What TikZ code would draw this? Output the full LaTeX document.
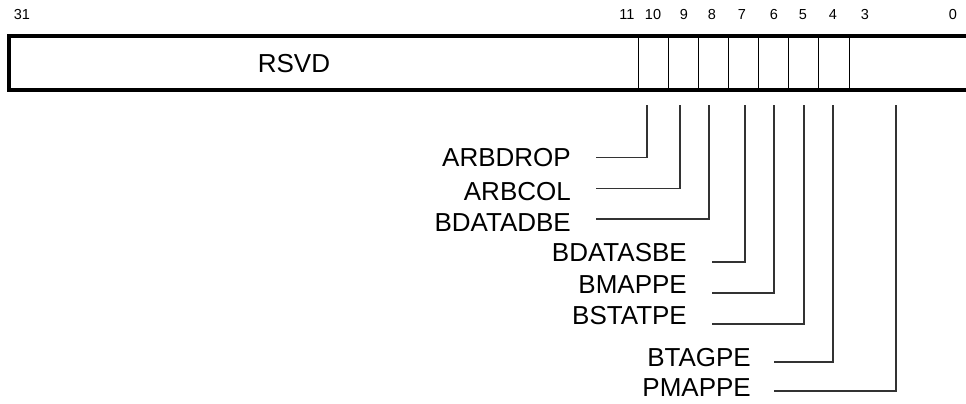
\documentclass[tikz,border=0pt]{standalone}
\usepackage{fontspec}
\setmainfont{Liberation Sans}
\begin{document}
\begin{tikzpicture}[x=1pt,y=-1pt,
  bitnum/.style={font=\fontsize{14.5}{16}\selectfont, inner sep=0pt, anchor=center},
  fieldlab/.style={font=\fontsize{26}{30}\selectfont, inner sep=0pt, anchor=base east},
  conn/.style={line width=1.2pt, draw=black!80},
  divider/.style={line width=1pt}]
\useasboundingbox (0,0) rectangle (966,404);
% register outline
\draw[line width=4pt] (970,36) -- (9,36) -- (9,90) -- (970,90);
% field dividers
\foreach \x in {638,668,698,728,758,788,818,849}
  \draw[divider] (\x,37.5) -- (\x,88.5);
% bit numbers
\node[bitnum] (b31) at (22,15) {31};
\node[bitnum] (b11) at (627,15) {11};
\node[bitnum] (b10) at (653,15) {10};
\node[bitnum] (b9) at (684,15) {9};
\node[bitnum] (b8) at (712,15) {8};
\node[bitnum] (b7) at (742,15) {7};
\node[bitnum] (b6) at (774,15) {6};
\node[bitnum] (b5) at (803,15) {5};
\node[bitnum] (b4) at (833,15) {4};
\node[bitnum] (b3) at (865,15) {3};
\node[bitnum] (b0) at (953,15) {0};
% RSVD
\node[font=\fontsize{26}{30}\selectfont, inner sep=0pt] (rsvd) at (294,63.5) {RSVD};
% labels
\node[fieldlab] (arbdrop) at (571,166.7) {ARBDROP};
\node[fieldlab] (arbcol) at (571,200) {ARBCOL};
\node[fieldlab] (bdatadbe) at (571,231.7) {BDATADBE};
\node[fieldlab] (bdatasbe) at (687,261.7) {BDATASBE};
\node[fieldlab] (bmappe) at (687,293.3) {BMAPPE};
\node[fieldlab] (bstatpe) at (687,324) {BSTATPE};
\node[fieldlab] (btagpe) at (751,366.7) {BTAGPE};
\node[fieldlab] (pmappe) at (751,396) {PMAPPE};
% tap points below the register
\coordinate (t10) at (647,105);
\coordinate (t9) at (680,105);
\coordinate (t8) at (709,105);
\coordinate (t7) at (745,105);
\coordinate (t6) at (774,105);
\coordinate (t5) at (804,105);
\coordinate (t4) at (833,105);
\coordinate (t30) at (896,105);
% line starts next to labels
\coordinate (h10) at (596,157.7);
\coordinate (h9) at (596,188.7);
\coordinate (h8) at (596,219);
\coordinate (h7) at (712,262);
\coordinate (h6) at (712,293);
\coordinate (h5) at (712,324);
\coordinate (h4) at (774,362);
\coordinate (h30) at (774,391);
% connectors
\draw[conn] (h10) -| (t10);
\draw[conn] (h9) -| (t9);
\draw[conn] (h8) -| (t8);
\draw[conn] (h7) -| (t7);
\draw[conn] (h6) -| (t6);
\draw[conn] (h5) -| (t5);
\draw[conn] (h4) -| (t4);
\draw[conn] (h30) -| (t30);
\end{tikzpicture}
\end{document}
